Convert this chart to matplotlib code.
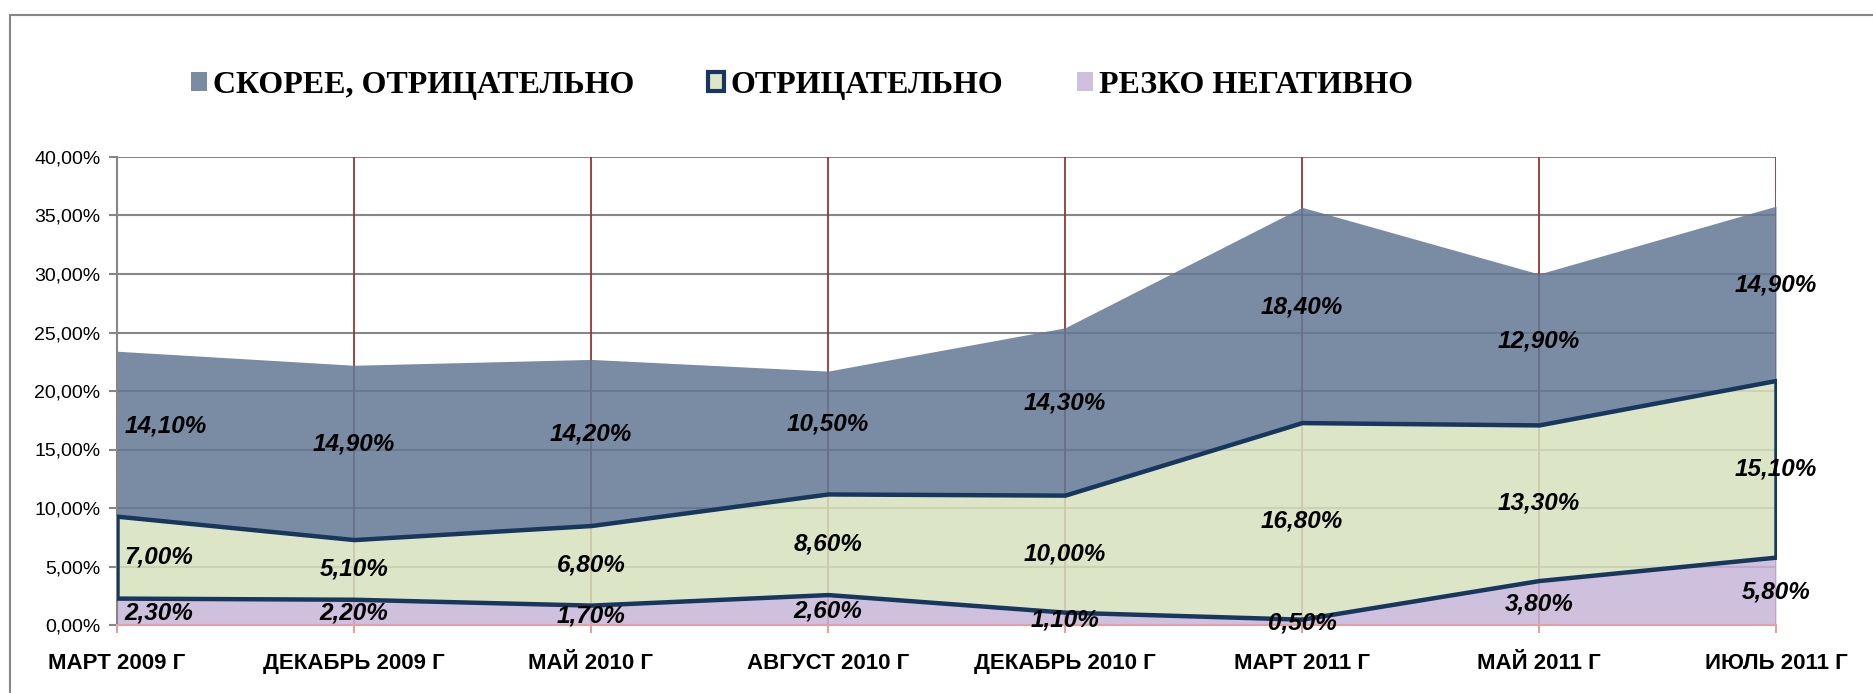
import matplotlib
matplotlib.use("Agg")
import matplotlib.pyplot as plt
import numpy as np
from matplotlib.patches import Patch, Rectangle
from matplotlib.ticker import FuncFormatter, MultipleLocator

categories = ["МАРТ 2009 Г", "ДЕКАБРЬ 2009 Г", "МАЙ 2010 Г", "АВГУСТ 2010 Г",
              "ДЕКАБРЬ 2010 Г", "МАРТ 2011 Г", "МАЙ 2011 Г", "ИЮЛЬ 2011 Г"]
rezko = [2.3, 2.2, 1.7, 2.6, 1.1, 0.5, 3.8, 5.8]          # РЕЗКО НЕГАТИВНО
otric = [7.0, 5.1, 6.8, 8.6, 10.0, 16.8, 13.3, 15.1]      # ОТРИЦАТЕЛЬНО
skoree = [14.1, 14.9, 14.2, 10.5, 14.3, 18.4, 12.9, 14.9] # СКОРЕЕ, ОТРИЦАТЕЛЬНО
series_names = ["СКОРЕЕ, ОТРИЦАТЕЛЬНО", "ОТРИЦАТЕЛЬНО", "РЕЗКО НЕГАТИВНО"]

c_top = "#637894"
c_mid = "#D8E1BE"
c_bot = "#C7B5D7"
c_edge = "#17375E"
alpha = 0.85

fig = plt.figure(figsize=(18.74, 6.93), dpi=100)
ax = fig.add_axes([117/1874, 1-625/693, (1776-117)/1874, (625-157)/693])

x = np.arange(len(categories))
b = np.array(rezko)
m = b + np.array(otric)
t = m + np.array(skoree)

ax.set_axisbelow(True)
ax.fill_between(x, 0, b, color=c_bot, alpha=alpha, lw=0, zorder=2)
ax.fill_between(x, m, t, color=c_top, alpha=alpha, lw=0, zorder=2)
ax.fill_between(x, b, m, facecolor=(*matplotlib.colors.to_rgb(c_mid), alpha),
                edgecolor=c_edge, lw=3.2, zorder=3)

ax.set_xlim(0, len(categories)-1)
ax.set_ylim(0, 40)
ax.yaxis.set_major_locator(MultipleLocator(5))
ax.yaxis.set_major_formatter(FuncFormatter(lambda v, p: f"{v:.2f}".replace(".", ",") + "%"))
ax.set_xticks(x)
ax.set_xticklabels(categories)

ax.grid(axis="y", color="#868686", lw=1.5)
for xi in x[1:]:
    ax.axvline(xi, color="#953735", lw=1.3, zorder=1)

for s in ["top", "right"]:
    ax.spines[s].set_visible(False)
ax.spines["left"].set_color("#868686")
ax.spines["left"].set_linewidth(1.5)
ax.spines["bottom"].set_color("#E6A0A0")
ax.spines["bottom"].set_linewidth(1.5)
ax.spines["bottom"].set_zorder(4)

ax.tick_params(axis="y", colors="#868686", length=6, width=1.5, pad=6,
               labelcolor="black", labelsize=14)
ax.tick_params(axis="x", colors="#E6A0A0", length=6, width=1.5, pad=14,
               labelcolor="black", labelsize=15)
for lab in ax.get_yticklabels():
    lab.set_family(["Liberation Sans", "DejaVu Sans"])
for lab in ax.get_xticklabels():
    lab.set_family(["Liberation Sans", "DejaVu Sans"])
    lab.set_fontweight("bold")
    lab.set_fontsize(16)

def fmt(v):
    return f"{v:.2f}".replace(".", ",") + "%"

lab_kw = dict(fontsize=17.5, fontweight="bold", fontstyle="italic",
              family=["Liberation Sans", "DejaVu Sans"], va="center", zorder=6,
              clip_on=False)
n = len(categories)
for i in range(n):
    ha = "left" if i == 0 else "center"
    dx = 0.03 if i == 0 else 0
    ax.text(i + dx, (0 + b[i]) / 2 - 0.1, fmt(rezko[i]), ha=ha, **lab_kw)
    ax.text(i + dx, (b[i] + m[i]) / 2, fmt(otric[i]), ha=ha, **lab_kw)
    ax.text(i + dx, (m[i] + t[i]) / 2 + 0.7, fmt(skoree[i]), ha=ha, **lab_kw)

handles = [Patch(facecolor="#7A8CA4", edgecolor="none"),
           Patch(facecolor="#DEE6C8", edgecolor=c_edge, lw=3),
           Patch(facecolor="#CFC0DD", edgecolor="none")]
fig.legend(handles, series_names, loc="center", bbox_to_anchor=(0.428, 0.877),
           ncol=3, frameon=False, handlelength=0.5, handleheight=0.55,
           handletextpad=0.2, columnspacing=2.3,
           prop=dict(family=["Liberation Serif", "DejaVu Serif"], weight="bold", size=23))

fig.patches.append(Rectangle((10/1874, -0.1), 1.2, 1.1 - 15/693, transform=fig.transFigure,
                             fill=False, edgecolor="#868686", lw=1.5))

fig.savefig("out.png", dpi=100)
